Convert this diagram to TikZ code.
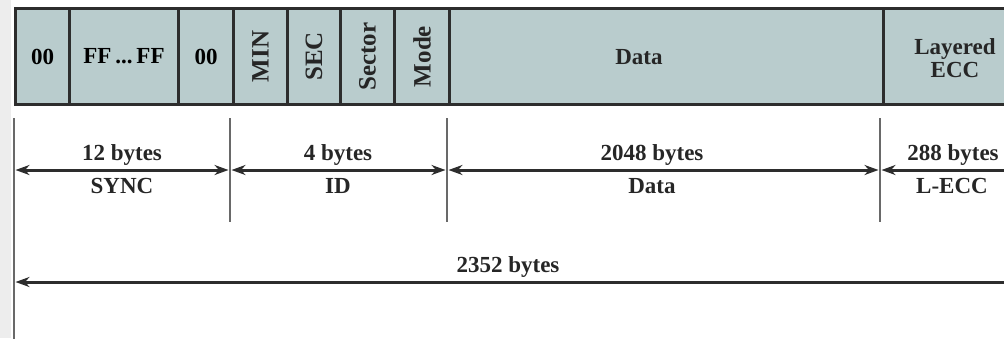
\documentclass[tikz,border=0pt]{standalone}
\usepackage{fontspec}
\setmainfont{Liberation Serif}
\usetikzlibrary{arrows.meta}
\definecolor{cellfill}{RGB}{185,204,205}
\definecolor{edge}{RGB}{45,45,45}
\definecolor{tickc}{RGB}{105,105,105}
\tikzset{
  cell/.style={draw=edge, line width=3pt, fill=cellfill, rectangle, anchor=north west,
    minimum height=96pt, inner sep=0pt, font=\fontsize{23}{25}\selectfont\bfseries},
  lbl/.style={font=\fontsize{23}{25}\selectfont\bfseries, inner sep=0pt, text=black!85},
  vlbl/.style={font=\fontsize{25}{27}\selectfont\bfseries, inner sep=0pt, text=black!85, rotate=90},
  tickline/.style={draw=tickc, line width=2.6pt},
  tip/.style={},
  dim/.style={draw=edge, line width=3pt, {Stealth[length=14pt,width=10pt]}-{Stealth[length=14pt,width=10pt]}},
  dimL/.style={draw=edge, line width=3pt, {Stealth[length=14pt,width=10pt]}-}
}
\begin{document}
\begin{tikzpicture}[x=1pt,y=-1pt]
\useasboundingbox (0,0) rectangle (1004,338);
\fill[white] (0,0) rectangle (1004,338);
\fill[black!7] (0,0) rectangle (11,338);
\clip (0,0) rectangle (1004,338);
% cells
\node[cell, minimum width=54pt]  (c1) at (14,7) {00};
\node[cell, minimum width=109pt] (c2) at (68,7) {FF\,...\,FF};
\node[cell, minimum width=55pt]  (c3) at (177,7) {00};
\node[cell, minimum width=54pt]  (c4) at (232,7) {};
\node[cell, minimum width=53pt]  (c5) at (286,7) {};
\node[cell, minimum width=54pt]  (c6) at (339,7) {};
\node[cell, minimum width=55pt]  (c7) at (393,7) {};
\node[cell, minimum width=434pt] (c8) at (448,7) {};
\node[cell, minimum width=200pt] (c9) at (882,7) {};
\node[vlbl] (tmin) at (c4.center) {MIN};
\node[vlbl] (tsec) at (c5.center) {SEC};
\node[vlbl] (tsector) at (c6.center) {Sector};
\node[vlbl] (tmode) at (c7.center) {Mode};
\node[lbl] (tdata) at (639,57) {Data};
\node[lbl, align=center] (tecc) at (955,58) {Layered\\[-2pt]ECC};
% ticks
\coordinate (k0a) at (14,118); \coordinate (k0b) at (14,345);
\coordinate (k1a) at (230,118); \coordinate (k1b) at (230,222);
\coordinate (k2a) at (447,118); \coordinate (k2b) at (447,222);
\coordinate (k3a) at (880,118); \coordinate (k3b) at (880,222);
\draw[tickline] (k0a) -- (k0b);
\draw[tickline] (k1a) -- (k1b);
\draw[tickline] (k2a) -- (k2b);
\draw[tickline] (k3a) -- (k3b);
% dimension arrows
\coordinate (a0) at (15.5,170); \coordinate (a1l) at (228.5,170);
\coordinate (a1r) at (231.5,170); \coordinate (a2l) at (445.5,170);
\coordinate (a2r) at (448.5,170); \coordinate (a3l) at (878.5,170);
\coordinate (a3r) at (881.5,170); \coordinate (a4) at (1010,170);
\draw[dim] (a0) -- (a1l);
\draw[dim] (a1r) -- (a2l);
\draw[dim] (a2r) -- (a3l);
\draw[dimL] (a3r) -- (a4);
\node[lbl] (s1) at (122,155) {12 bytes};
\node[lbl] (s2) at (122,186) {SYNC};
\node[lbl] (i1) at (338,155) {4 bytes};
\node[lbl] (i2) at (338,186) {ID};
\node[lbl] (d1) at (652,155) {2048 bytes};
\node[lbl] (d2) at (652,186) {Data};
\node[lbl] (e1) at (953,155) {288 bytes};
\node[lbl] (e2) at (952,186) {L-ECC};
\coordinate (b0) at (15.5,282); \coordinate (b1) at (1010,282);
\draw[dimL] (b0) -- (b1);
\node[lbl] (tot) at (508,267) {2352 bytes};
\end{tikzpicture}
\end{document}
